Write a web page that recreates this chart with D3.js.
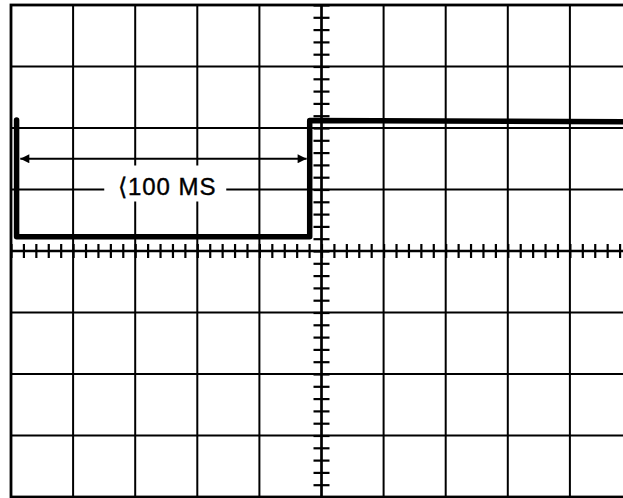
<!DOCTYPE html>
<html>
<head>
<meta charset="utf-8">
<script src="https://cdn.jsdelivr.net/npm/d3@7"></script>
<style>
    body { margin: 0; background: #fff; }
    svg { display: block; }
</style>
</head>
<body>
<script>
const WIDTH = 623
const HEIGHT = 498

// graticule divisions (10 across, 8 high, 5 minor per division on centre axes)
const xDivisions = [0, 1, 2, 3, 4, 5, 6, 7, 8, 9, 10]
const yDivisions = [-4, -3, -2, -1, 0, 1, 2, 3, 4]
const minorPerDivision = 5

// trace, in divisions
const traceX = [0.09, 0.09, 4.81, 4.81, 10.2]
const traceY = [2.13, 0.23, 0.23, 2.12, 2.1]

// annotation
const arrowSpan = [0.15, 4.76]
const arrowLevel = 1.5
const labelText = "⟨100 MS"
const labelAt = [2.5, 1.0]

const x = d3.scaleLinear().domain([0, 10]).range([11, 632])
const y = d3.scaleLinear().domain([4, -4]).range([5, 497])

const svg = d3
    .select("body")
    .append("svg")
    .attr("width", WIDTH)
    .attr("height", HEIGHT)

svg.append("defs")
    .append("marker")
    .attr("id", "head")
    .attr("viewBox", "0 0 10 10")
    .attr("refX", 10)
    .attr("refY", 5)
    .attr("markerWidth", 16)
    .attr("markerHeight", 9)
    .attr("markerUnits", "userSpaceOnUse")
    .attr("orient", "auto-start-reverse")
    .append("path")
    .attr("d", "M0,0L10,5L0,10z")
    .attr("fill", "#000")

const grid = svg.append("g")
    .attr("stroke", "#000")
    .attr("stroke-width", 2)

grid.selectAll(".vline")
    .data(xDivisions)
    .enter()
    .append("line")
    .attr("x1", d => x(d))
    .attr("x2", d => x(d))
    .attr("y1", y(4))
    .attr("y2", y(-4))

grid.selectAll(".hline")
    .data(yDivisions)
    .enter()
    .append("line")
    .attr("x1", x(0))
    .attr("x2", x(10))
    .attr("y1", d => y(d))
    .attr("y2", d => y(d))

// outer frame
svg.append("rect")
    .attr("x", x(0))
    .attr("y", y(4))
    .attr("width", x(10) - x(0))
    .attr("height", y(-4) - y(4))
    .attr("fill", "none")
    .attr("stroke", "#000")
    .attr("stroke-width", 2.8)

// minor ticks on centre axes
const minorX = d3.range(0, 10 * minorPerDivision + 1).map(i => i / minorPerDivision)
const minorY = d3.range(-4 * minorPerDivision, 4 * minorPerDivision + 1).map(i => i / minorPerDivision)

svg.append("g")
    .attr("transform", `translate(0,${y(0) - 7})`)
    .call(d3.axisBottom(x).tickValues(minorX).tickSize(14).tickFormat(""))
    .call(g => g.select(".domain").remove())
    .call(g => g.selectAll("line").attr("stroke-width", 2.2))

svg.append("g")
    .attr("transform", `translate(${x(5) + 8},0)`)
    .call(d3.axisLeft(y).tickValues(minorY).tickSize(16).tickFormat(""))
    .call(g => g.select(".domain").remove())
    .call(g => g.selectAll("line").attr("stroke-width", 2.2))

svg.append("line")
    .attr("x1", x(0)).attr("x2", x(10))
    .attr("y1", y(0)).attr("y2", y(0))
    .attr("stroke", "#000").attr("stroke-width", 2.4)
svg.append("line")
    .attr("x1", x(5)).attr("x2", x(5))
    .attr("y1", y(4)).attr("y2", y(-4))
    .attr("stroke", "#000").attr("stroke-width", 2.4)

// label with a white gap behind it
svg.append("rect")
    .attr("x", x(labelAt[0]) - 62)
    .attr("y", y(labelAt[1]) - 24)
    .attr("width", 122)
    .attr("height", 36)
    .attr("fill", "#fff")

svg.append("text")
    .attr("x", x(labelAt[0]) + 1)
    .attr("y", y(labelAt[1]) + 5)
    .attr("text-anchor", "middle")
    .attr("font-family", "Liberation Sans, Arial, sans-serif")
    .attr("font-size", 24)
    .attr("letter-spacing", 1)
    .attr("stroke", "#000")
    .attr("stroke-width", 0.4)
    .text(labelText)

// arrow
svg.append("line")
    .attr("x1", x(arrowSpan[0]))
    .attr("x2", x(arrowSpan[1]))
    .attr("y1", y(arrowLevel))
    .attr("y2", y(arrowLevel))
    .attr("stroke", "#000")
    .attr("stroke-width", 1.8)
    .attr("marker-start", "url(#head)")
    .attr("marker-end", "url(#head)")

// trace
const trace = d3.line()
    .x(d => x(d[0]))
    .y(d => y(d[1]))

svg.append("path")
    .datum(d3.zip(traceX, traceY))
    .attr("d", trace)
    .attr("fill", "none")
    .attr("stroke", "#000")
    .attr("stroke-width", 5.5)
    .attr("stroke-linejoin", "round")
    .attr("stroke-linecap", "round")
</script>
</body>
</html>
